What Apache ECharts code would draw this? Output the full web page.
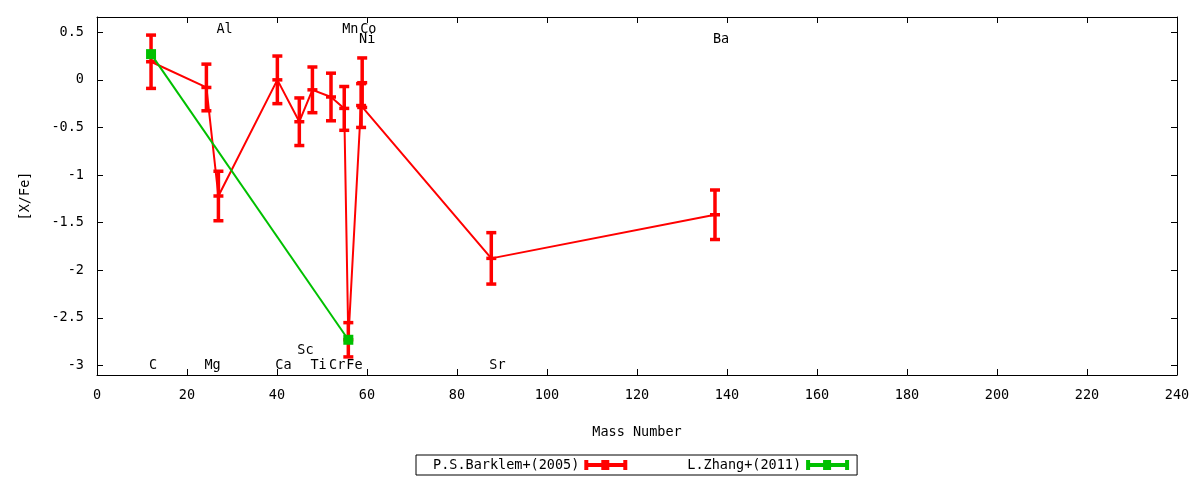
<!DOCTYPE html>
<html>
<head>
<meta charset="utf-8">
<script src="https://cdn.jsdelivr.net/npm/echarts@6/dist/echarts.min.js"></script>
<style>
  html, body { margin: 0; padding: 0; background: #fff; }
  #chart { width: 1200px; height: 480px; }
</style>
</head>
<body>
<div id="chart"></div>
<script>
// Barklem et al. (2005): element, mass number, [X/Fe], error
var elements = ['C', 'Mg', 'Al', 'Ca', 'Sc', 'Ti', 'Cr', 'Mn', 'Fe', 'Co', 'Ni', 'Sr', 'Ba'];
var massNumber = [12.01, 24.31, 26.98, 40.08, 44.96, 47.87, 52.00, 54.94, 55.85, 58.93, 58.69, 87.62, 137.33];
var barklemXFe = [0.19, -0.08, -1.22, 0.0, -0.44, -0.105, -0.18, -0.30, -2.73, -0.03, -0.27, -1.875, -1.417];
var barklemErr = [0.28, 0.245, 0.26, 0.25, 0.25, 0.24, 0.25, 0.23, 0.18, 0.26, 0.23, 0.27, 0.26];

// Zhang et al. (2011)
var zhangMass = [12.01, 55.85];
var zhangXFe = [0.27, -2.73];
var zhangErr = [0, 0];

// where each element name is written
var labelY = [-3, -3, 0.53, -3, -2.84, -3, -3, 0.53, -3, 0.53, 0.42, -3, 0.42];

var yTicks = [-3, -2.5, -2, -1.5, -1, -0.5, 0, 0.5];

var FONT = 'DejaVu Sans Mono';
var RED = '#ff0000';
var GREEN = '#00c000';

var chart = echarts.init(document.getElementById('chart'));

// error bar drawing
function errorBar(color, cap) {
    return function (params, api) {
        var x = api.value(0), y = api.value(1), e = api.value(2);
        var mid = api.coord([x, y]);
        var top = api.coord([x, y + e]);
        var bot = api.coord([x, y - e]);
        var st = { stroke: color, lineWidth: 3.5 };
        var kids = [];
        if (e > 0) {
            kids.push({ type: 'line', shape: { x1: top[0], y1: top[1], x2: bot[0], y2: bot[1] }, style: st });
            kids.push({ type: 'line', shape: { x1: top[0] - cap, y1: top[1], x2: top[0] + cap, y2: top[1] }, style: st });
            kids.push({ type: 'line', shape: { x1: bot[0] - cap, y1: bot[1], x2: bot[0] + cap, y2: bot[1] }, style: st });
            kids.push({ type: 'line', shape: { x1: mid[0] - cap, y1: mid[1], x2: mid[0] + cap, y2: mid[1] }, style: st });
        }
        return { type: 'group', children: kids };
    };
}

function pairs(xs, ys, es) {
    return xs.map(function (x, i) { return es ? [x, ys[i], es[i]] : [x, ys[i]]; });
}

var legendIcon = 'path://M0,3H43V7H0Z M0,0H4V10H0Z M39,0H43V10H39Z M17,0H25V10H17Z';

var frameLine = { show: true, onZero: false, lineStyle: { color: '#000', width: 1 } };
var tick = { show: true, inside: true, length: 6, lineStyle: { color: '#000' } };
var textStyle = { fontFamily: FONT, fontSize: 13.5, color: '#000' };

var option = {
    animation: false,
    backgroundColor: '#fff',
    grid: { left: 97, right: 23, top: 17, bottom: 105 },
    legend: {
        left: 416,
        top: 455,
        orient: 'horizontal',
        align: 'right',
        borderColor: '#000',
        borderWidth: 1,
        borderRadius: 0,
        padding: [3, 8, 3, 17],
        itemGap: 60,
        itemWidth: 43,
        itemHeight: 10,
        textStyle: textStyle,
        data: [
            { name: 'P.S.Barklem+(2005)', icon: legendIcon, itemStyle: { color: RED } },
            { name: 'L.Zhang+(2011)', icon: legendIcon, itemStyle: { color: GREEN } }
        ]
    },
    xAxis: [{
        type: 'value',
        min: 0,
        max: 240,
        interval: 20,
        name: 'Mass Number',
        nameLocation: 'middle',
        nameGap: 50,
        nameTextStyle: textStyle,
        axisLine: frameLine,
        axisTick: tick,
        axisLabel: { fontFamily: FONT, fontSize: 13.5, color: '#000', margin: 13 },
        splitLine: { show: false }
    }, {
        type: 'value',
        position: 'top',
        min: 0,
        max: 240,
        interval: 20,
        axisLine: frameLine,
        axisTick: tick,
        axisLabel: { show: false },
        splitLine: { show: false }
    }],
    yAxis: [{
        type: 'value',
        min: -3.1,
        max: 0.66,
        name: '[X/Fe]',
        nameLocation: 'middle',
        nameGap: 65,
        nameRotate: 90,
        nameTextStyle: textStyle,
        axisLine: frameLine,
        axisTick: { show: true, inside: true, length: 6, lineStyle: { color: '#000' }, customValues: yTicks },
        axisLabel: { fontFamily: FONT, fontSize: 13.5, color: '#000', margin: 13, customValues: yTicks },
        splitLine: { show: false }
    }, {
        type: 'value',
        position: 'right',
        min: -3.1,
        max: 0.66,
        axisLine: frameLine,
        axisTick: { show: true, inside: true, length: 6, lineStyle: { color: '#000' }, customValues: yTicks },
        axisLabel: { show: false },
        splitLine: { show: false }
    }],
    series: [{
        name: 'P.S.Barklem+(2005)',
        type: 'line',
        data: pairs(massNumber, barklemXFe),
        showSymbol: false,
        itemStyle: { color: RED },
        lineStyle: { color: RED, width: 2 },
        z: 3
    }, {
        name: 'P.S.Barklem+(2005)',
        type: 'custom',
        data: pairs(massNumber, barklemXFe, barklemErr),
        encode: { x: 0, y: 1 },
        itemStyle: { color: RED },
        renderItem: errorBar(RED, 5),
        z: 3
    }, {
        name: 'L.Zhang+(2011)',
        type: 'line',
        data: pairs(zhangMass, zhangXFe),
        symbol: 'rect',
        symbolSize: 10,
        itemStyle: { color: GREEN },
        lineStyle: { color: GREEN, width: 2 },
        z: 4
    }, {
        name: 'L.Zhang+(2011)',
        type: 'custom',
        data: pairs(zhangMass, zhangXFe, zhangErr),
        encode: { x: 0, y: 1 },
        itemStyle: { color: GREEN },
        renderItem: errorBar(GREEN, 5),
        z: 4
    }, {
        name: 'labels',
        type: 'custom',
        data: pairs(massNumber, labelY),
        encode: { x: 0, y: 1 },
        silent: true,
        renderItem: function (params, api) {
            var p = api.coord([api.value(0), api.value(1)]);
            return {
                type: 'text',
                x: p[0] - 2,
                y: p[1],
                style: {
                    text: elements[params.dataIndex],
                    fill: '#000',
                    font: '13.5px "' + FONT + '"',
                    textAlign: 'left',
                    textVerticalAlign: 'middle'
                }
            };
        },
        z: 5
    }]
};

chart.setOption(option);
</script>
</body>
</html>
